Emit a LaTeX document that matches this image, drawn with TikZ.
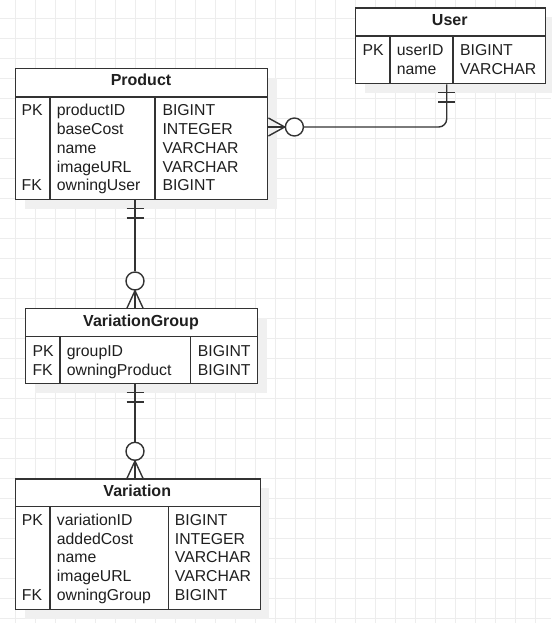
\documentclass[tikz,border=0pt]{standalone}
\usepackage{fontspec}
\setmainfont{Liberation Sans}
\usetikzlibrary{calc,shadows}
\begin{document}
\begin{tikzpicture}[x=1pt,y=-1pt,
  gridline/.style={draw=black!7, line width=1pt},
  entity/.style={draw=black!80, line width=1.4pt, fill=white, inner sep=0pt, anchor=north west,
     drop shadow={shadow xshift=9pt, shadow yshift=-9pt, fill=black!6, draw=none, opacity=1}},
  entline/.style={draw=black!80, line width=1.4pt},
  conn/.style={draw=black!80, line width=1.4pt},
  circ/.style={draw=black!80, line width=1.4pt, fill=white, circle, minimum size=18pt, inner sep=0pt},
  hdr/.style={font=\fontsize{16}{19}\selectfont\bfseries, text=black!88, inner sep=0pt, anchor=base},
  cell/.style={font=\fontsize{15.8}{18.7}\selectfont, text=black!88, inner sep=0pt, anchor=base west},
]
\fill[white] (0,0) rectangle (551,623);
\useasboundingbox (0,0) rectangle (551,623);
\begin{scope}
\clip (0,0) rectangle (551,623);
\foreach \x in {15,35,...,535} \draw[gridline] (\x,0) -- (\x,623);
\foreach \y in {18.3,38.3,...,620} \draw[gridline] (0,\y) -- (551,\y);
\end{scope}

% ---------- Product ----------
\node[entity, minimum width=252pt, minimum height=131pt] (product) at (15,68) {};
\draw[entline] ($(product.north west)+(0,29)$) -- ($(product.north east)+(0,29)$);
\draw[entline] ($(product.north west)+(35,29)$) -- ($(product.south west)+(35,0)$);
\draw[entline] ($(product.north west)+(140,29)$) -- ($(product.south west)+(140,0)$);
\node[hdr] (producth) at (141,86) {Product};
\foreach \k/\a/\c [count=\i] in {PK/productID/BIGINT, /baseCost/INTEGER, /name/VARCHAR, /imageURL/VARCHAR, FK/owningUser/BIGINT}{
  \pgfmathsetmacro{\yy}{116+18.7*(\i-1)}
  \node[cell] (productk\i) at (21.5,\yy) {\k};
  \node[cell] (productn\i) at (56.7,\yy) {\a};
  \node[cell] (productt\i) at (162.3,\yy) {\c};
}

% ---------- User ----------
\node[entity, minimum width=189.5pt, minimum height=75.5pt] (user) at (355,7.5) {};
\draw[entline] ($(user.north west)+(0,28.5)$) -- ($(user.north east)+(0,28.5)$);
\draw[entline] ($(user.north west)+(35,28.5)$) -- ($(user.south west)+(35,0)$);
\draw[entline] ($(user.north west)+(98,28.5)$) -- ($(user.south west)+(98,0)$);
\node[hdr] (userh) at (449.75,25.7) {User};
\node[cell] (userk1) at (362.3,55.7) {PK};
\node[cell] (usern1) at (396.7,55.7) {userID};
\node[cell] (usert1) at (460,55.7) {BIGINT};
\node[cell] (usern2) at (396.7,74.2) {name};
\node[cell] (usert2) at (460,74.2) {VARCHAR};

% ---------- VariationGroup ----------
\node[entity, minimum width=232pt, minimum height=75pt] (vg) at (25,308) {};
\draw[entline] ($(vg.north west)+(0,28.7)$) -- ($(vg.north east)+(0,28.7)$);
\draw[entline] ($(vg.north west)+(35,28.7)$) -- ($(vg.south west)+(35,0)$);
\draw[entline] ($(vg.north west)+(165.7,28.7)$) -- ($(vg.south west)+(165.7,0)$);
\node[hdr] (vgh) at (141,326) {VariationGroup};
\node[cell] (vgk1) at (32.3,356.5) {PK};
\node[cell] (vgn1) at (66.7,356.5) {groupID};
\node[cell] (vgt1) at (197.7,356.5) {BIGINT};
\node[cell] (vgk2) at (32.3,375) {FK};
\node[cell] (vgn2) at (66.7,375) {owningProduct};
\node[cell] (vgt2) at (197.7,375) {BIGINT};

% ---------- Variation ----------
\node[entity, minimum width=244.5pt, minimum height=130.7pt] (variation) at (15,478.3) {};
\draw[entline] ($(variation.north west)+(0,28.4)$) -- ($(variation.north east)+(0,28.4)$);
\draw[entline] ($(variation.north west)+(35,28.4)$) -- ($(variation.south west)+(35,0)$);
\draw[entline] ($(variation.north west)+(153.3,28.4)$) -- ($(variation.south west)+(153.3,0)$);
\node[hdr] (variationh) at (137.25,496) {Variation};
\foreach \k/\a/\c [count=\i] in {PK/variationID/BIGINT, /addedCost/INTEGER, /name/VARCHAR, /imageURL/VARCHAR, FK/owningGroup/BIGINT}{
  \pgfmathsetmacro{\yy}{525.7+18.6*(\i-1)}
  \node[cell] (variationk\i) at (21.7,\yy) {\k};
  \node[cell] (variationn\i) at (56.7,\yy) {\a};
  \node[cell] (variationt\i) at (174.7,\yy) {\c};
}

% ---------- Product -- User ----------
\coordinate (pu) at ($(product.north east)+(0,59)$);
\coordinate (ub) at ($(user.south)+(-3.75,0)$);
\node[circ] (c1) at ($(pu)+(26,0)$) {};
\draw[conn] (pu) -- (c1.west);
\draw[conn] ($(pu)+(0,-9)$) -- (c1.west) -- ($(pu)+(0,9)$);
\draw[conn, rounded corners=8pt] (c1.east) -| (ub);
\draw[conn] ($(ub)+(-8.5,8)$) -- ++(17,0);
\draw[conn] ($(ub)+(-8.5,17.5)$) -- ++(17,0);

% ---------- Product -- VariationGroup ----------
\coordinate (pb) at ($(product.south west)+(120,0)$);
\coordinate (vt) at ($(vg.north west)+(110,0)$);
\node[circ] (c2) at ($(vt)+(0,-27)$) {};
\draw[conn] (pb) -- (c2.north);
\draw[conn] ($(pb)+(-8.5,8)$) -- ++(17,0);
\draw[conn] ($(pb)+(-8.5,17.5)$) -- ++(17,0);
\draw[conn] (c2.south) -- (vt);
\draw[conn] ($(vt)+(-8,0)$) -- (c2.south) -- ($(vt)+(8,0)$);

% ---------- VariationGroup -- Variation ----------
\coordinate (vb) at ($(vg.south west)+(110,0)$);
\coordinate (wt) at ($(variation.north west)+(120,0)$);
\node[circ] (c3) at ($(wt)+(0,-27)$) {};
\draw[conn] (vb) -- (c3.north);
\draw[conn] ($(vb)+(-8.5,8)$) -- ++(17,0);
\draw[conn] ($(vb)+(-8.5,17.5)$) -- ++(17,0);
\draw[conn] (c3.south) -- (wt);
\draw[conn] ($(wt)+(-8,0)$) -- (c3.south) -- ($(wt)+(8,0)$);
\end{tikzpicture}
\end{document}
